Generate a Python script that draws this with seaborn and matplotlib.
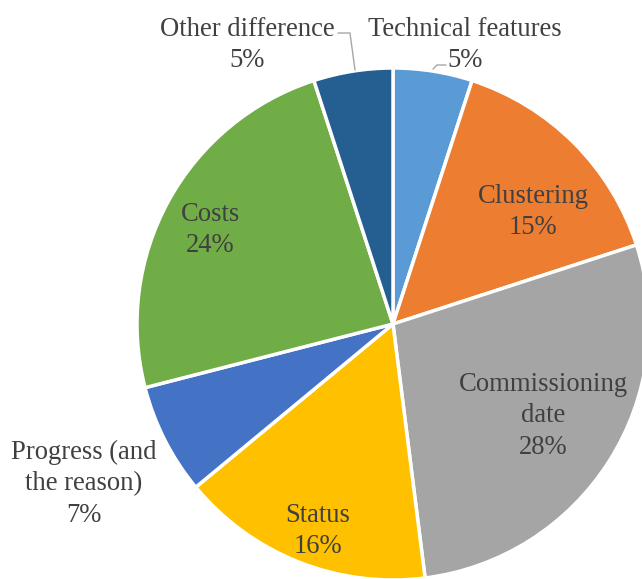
import matplotlib
matplotlib.use("Agg")
import matplotlib.pyplot as plt
import seaborn as sns

# data
kategori = ["Technical features", "Clustering", "Commissioning date", "Status",
            "Progress (and the reason)", "Costs", "Other difference"]
persen = [5, 15, 28, 16, 7, 24, 5]
warna = ["#5B9BD5", "#ED7D31", "#A5A5A5", "#FFC000", "#4472C4", "#70AD47", "#255E91"]
teks_label = ["Technical features\n5%", "Clustering\n15%", "Commissioning\ndate\n28%",
              "Status\n16%", "Progress (and\nthe reason)\n7%", "Costs\n24%",
              "Other difference\n5%"]

W, H = 642, 579
sns.set_theme(style="white")
plt.rcParams["font.family"] = ["Liberation Serif", "DejaVu Serif"]

fig = plt.figure(figsize=(W / 100, H / 100), dpi=100)
ax = fig.add_axes([0, 0, 1, 1])

cx, cy, r = 393, H - 324, 256
ax.pie(persen, colors=warna, startangle=90, counterclock=False,
       center=(cx, cy), radius=r, frame=True,
       wedgeprops=dict(edgecolor="white", linewidth=2.5))
ax.set_xlim(0, W)
ax.set_ylim(0, H)
ax.set_aspect("equal")
ax.axis("off")

# posisi label (piksel, dari atas)
posisi = [(465, 45), (533, 212), (543, 416), (318, 531), (84, 484), (210, 230), (247, 45)]
for teks, (px, py) in zip(teks_label, posisi):
    ax.text(px, H - py, teks, ha="center", va="center", fontsize=19.2,
            color="#404040", linespacing=1.34)

# garis penunjuk
abu = "#A6A6A6"
ax.plot([338, 350, 355], [H - 33, H - 33, H - 70], color=abu, lw=1)
ax.plot([433, 437, 446], [H - 69, H - 65, H - 65], color=abu, lw=1)

fig.savefig("out.png", dpi=100)
